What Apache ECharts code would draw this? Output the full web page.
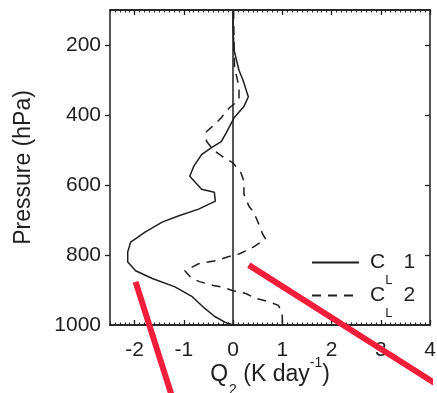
<!DOCTYPE html>
<html>
<head>
<meta charset="utf-8">
<script src="https://cdn.jsdelivr.net/npm/echarts@6/dist/echarts.min.js"></script>
<style>
  html, body { margin: 0; padding: 0; background: #fff; }
  #chart { width: 437px; height: 393px; }
</style>
</head>
<body>
<div id="chart"></div>
<script>
// profile C_L 1 (solid): [Q2, pressure]
const cl1Q2 = [0, 0, 0.02, 0.12, 0.2, 0.31, 0.22, 0.02, -0.14, -0.24, -0.44, -0.64, -0.8, -0.88, -0.64, -0.38, -0.36, -0.7, -1.1, -1.44, -1.78, -2.08, -2.14, -2.14, -1.98, -1.64, -1.18, -0.84, -0.58, -0.38, -0.15, 0];
const cl1P = [100, 150, 215, 272, 300, 348, 376, 408, 451, 476, 493, 513, 547, 575, 612, 621, 646, 669, 688, 706, 734, 763, 791, 820, 845, 867, 891, 918, 952, 975, 993, 1000];

// profile C_L 2 (dashed)
const cl2Q2 = [0.01, 0.02, 0.03, 0.12, 0.12, -0.08, -0.24, -0.38, -0.54, -0.54, -0.4, -0.18, 0, 0.16, 0.22, 0.22, 0.32, 0.42, 0.52, 0.6, 0.66, 0.36, 0.12, -0.1, -0.34, -0.7, -0.98, -0.84, -0.68, -0.4, -0.24, 0, 0.26, 0.46, 0.72, 0.92, 0.98, 1.0, 1.0];
const cl2P = [100, 200, 263, 320, 357, 380, 408, 428, 447, 475, 500, 522, 537, 565, 590, 626, 660, 678, 711, 740, 754, 782, 797, 805, 816, 825, 845, 867, 876, 887, 891, 902, 910, 924, 933, 944, 960, 975, 1000];

// red overlay strokes
const redAQ2 = [-1.98, -1.09];
const redAP = [877, 1271];
const redBQ2 = [0.32, 4.76];
const redBP = [829, 1225];

const xTicks = [-2, -1, 0, 1, 2, 3, 4];
const yTickMarks = [200, 400, 600, 800];
const yLabels = [200, 400, 600, 800, 1000];

const pairs = (xs, ps) => xs.map((x, i) => [x, ps[i]]);

const FONT = '"Liberation Sans", Arial, sans-serif';
const INK = '#1e1e1e';

const chart = echarts.init(document.getElementById('chart'));

const baseX = {
  type: 'value',
  min: -2.5,
  max: 4,
  splitLine: { show: false },
  axisLine: { onZero: false, lineStyle: { color: INK, width: 1.5 } }
};

const option = {
  animation: false,
  backgroundColor: '#fff',
  grid: { left: 110, right: 7, top: 10, bottom: 68, outerBoundsMode: 'none' },
  legend: {
    data: ['CL 1', 'CL 2'],
    orient: 'vertical',
    left: 306,
    top: 247,
    itemWidth: 47,
    itemHeight: 14,
    itemGap: -2,
    itemStyle: { opacity: 0 },
    formatter: name => '{c|C}{l|L}{n|' + name.slice(3) + '}',
    textStyle: {
      color: INK,
      fontFamily: FONT,
      rich: {
        c: { fontSize: 21, fontFamily: FONT, color: INK, padding: [0, 0, 0, 6] },
        l: { fontSize: 13, fontFamily: FONT, color: INK, padding: [36, 0, 0, 0] },
        n: { fontSize: 21, fontFamily: FONT, color: INK, padding: [0, 0, 0, 11] }
      }
    }
  },
  xAxis: [
    Object.assign({}, baseX, {
      position: 'bottom',
      name: '{n|Q}{s|2}{n| (K day}{p|-1}{n|)}',
      nameLocation: 'middle',
      nameGap: 28,
      nameMoveOverlap: false,
      nameTextStyle: {
        rich: {
          n: { fontSize: 23, fontFamily: FONT, color: INK },
          s: { fontSize: 14, fontFamily: FONT, color: INK, padding: [30, 0, 0, 1] },
          p: { fontSize: 14, fontFamily: FONT, color: INK, padding: [0, 0, 24, 0] }
        }
      },
      axisTick: { inside: true, length: 5, customValues: xTicks, lineStyle: { color: INK, width: 1.3 } },
      axisLabel: { customValues: xTicks, fontSize: 21, fontFamily: FONT, color: INK, margin: 15 }
    }),
    Object.assign({}, baseX, {
      position: 'bottom',
      interval: 0.5,
      axisTick: { inside: true, length: 2.5, lineStyle: { color: INK, width: 1 } },
      minorTick: { show: true, splitNumber: 5, length: 2.5, lineStyle: { color: INK, width: 1 } },
      axisLabel: { show: false }
    }),
    Object.assign({}, baseX, {
      position: 'top',
      axisTick: { inside: true, length: 5, customValues: xTicks, lineStyle: { color: INK, width: 1.3 } },
      axisLabel: { show: false }
    }),
    Object.assign({}, baseX, {
      position: 'top',
      interval: 0.5,
      axisTick: { inside: true, length: 2.5, lineStyle: { color: INK, width: 1 } },
      minorTick: { show: true, splitNumber: 5, length: 2.5, lineStyle: { color: INK, width: 1 } },
      axisLabel: { show: false }
    })
  ],
  yAxis: [
    {
      type: 'value',
      position: 'left',
      inverse: true,
      min: 100,
      max: 1000,
      name: 'Pressure (hPa)',
      nameLocation: 'middle',
      nameGap: 75,
      nameTextStyle: { fontSize: 23, fontFamily: FONT, color: INK },
      splitLine: { show: false },
      axisLine: { onZero: false, lineStyle: { color: INK, width: 1.5 } },
      axisTick: { inside: false, length: 5, customValues: yTickMarks, lineStyle: { color: INK, width: 1.3 } },
      axisLabel: {
        customValues: yLabels,
        formatter: v => String(v),
        fontSize: 21, fontFamily: FONT, color: INK, margin: 9
      }
    },
    {
      type: 'value',
      position: 'right',
      inverse: true,
      min: 100,
      max: 1000,
      splitLine: { show: false },
      axisLine: { onZero: false, lineStyle: { color: INK, width: 1.5 } },
      axisTick: { inside: true, length: 5, customValues: yTickMarks, lineStyle: { color: INK, width: 1.3 } },
      axisLabel: { show: false }
    }
  ],
  series: [
    {
      name: 'CL 1',
      type: 'line',
      data: pairs(cl1Q2, cl1P),
      symbol: 'none',
      lineStyle: { color: INK, width: 1.5, type: 'solid' },
      itemStyle: { color: INK },
      markLine: {
        silent: true,
        symbol: 'none',
        label: { show: false },
        lineStyle: { color: INK, width: 1.5, type: 'solid' },
        data: [{ xAxis: 0 }]
      }
    },
    {
      name: 'CL 2',
      type: 'line',
      data: pairs(cl2Q2, cl2P),
      symbol: 'none',
      lineStyle: { color: INK, width: 1.5, type: [9, 7] },
      itemStyle: { color: INK }
    },
    {
      name: 'redA',
      type: 'line',
      data: pairs(redAQ2, redAP),
      symbol: 'none',
      clip: false,
      z: 10,
      lineStyle: { color: '#f21d3b', width: 6 }
    },
    {
      name: 'redB',
      type: 'line',
      data: pairs(redBQ2, redBP),
      symbol: 'none',
      clip: false,
      z: 10,
      lineStyle: { color: '#f21d3b', width: 6 }
    }
  ]
};

chart.setOption(option);
</script>
</body>
</html>
